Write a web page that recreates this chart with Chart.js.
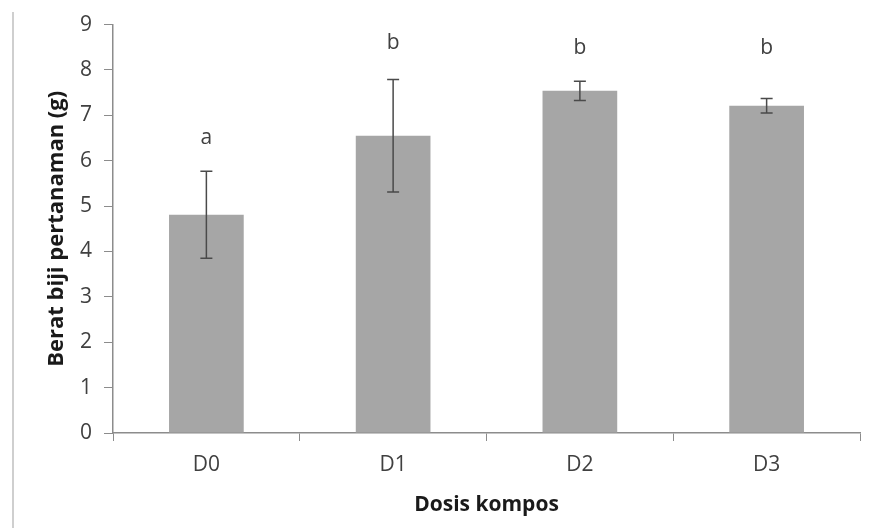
<!DOCTYPE html>
<html>
<head>
<meta charset="utf-8">
<script src="https://cdn.jsdelivr.net/npm/chart.js@4.4.0/dist/chart.umd.min.js"></script>
<style>
  html, body { margin: 0; padding: 0; background: #fff; }
  #wrap { position: relative; width: 875px; height: 528px; }
  #edge { position: absolute; left: 12px; top: 12px; width: 2px; bottom: 0; background: #cfcfcf; }
</style>
</head>
<body>
<div id="wrap">
  <div id="edge"></div>
  <canvas id="chart" width="875" height="528"></canvas>
</div>
<script>
const categories = ['D0', 'D1', 'D2', 'D3'];
const means = [4.81, 6.55, 7.54, 7.21];
const errors = [0.96, 1.24, 0.21, 0.16];
const letters = ['a', 'b', 'b', 'b'];
const letterY = [6.5, 8.6, 8.48, 8.48];
const yTicks = [0, 1, 2, 3, 4, 5, 6, 7, 8, 9];

const textColor = '#404040';
const axisColor = '#8c8c8c';
const font = "'Open Sans', sans-serif";

// error bars and significance letters
const extras = {
    id: 'extras',
    afterDatasetsDraw(chart) {
        const ctx = chart.ctx;
        const x = chart.scales.x;
        const y = chart.scales.y;
        ctx.save();
        ctx.strokeStyle = '#4a4a4a';
        ctx.lineWidth = 1.5;
        means.forEach((m, i) => {
            const cx = x.getPixelForValue(i);
            const top = y.getPixelForValue(m + errors[i]);
            const bot = y.getPixelForValue(m - errors[i]);
            ctx.beginPath();
            ctx.moveTo(cx, top); ctx.lineTo(cx, bot);
            ctx.moveTo(cx - 6, top); ctx.lineTo(cx + 6, top);
            ctx.moveTo(cx - 6, bot); ctx.lineTo(cx + 6, bot);
            ctx.stroke();
        });
        ctx.fillStyle = textColor;
        ctx.font = "21px " + font;
        ctx.textAlign = 'center';
        ctx.textBaseline = 'middle';
        letters.forEach((t, i) => {
            ctx.fillText(t, x.getPixelForValue(i), y.getPixelForValue(letterY[i]));
        });
        ctx.restore();
    }
};

new Chart(document.getElementById('chart').getContext('2d'), {
    type: 'bar',
    data: {
        labels: categories,
        datasets: [{
            data: means,
            backgroundColor: '#a6a6a6',
            borderWidth: 0,
            barPercentage: 0.4,
            categoryPercentage: 1.0
        }]
    },
    options: {
        responsive: false,
        animation: false,
        layout: { padding: { top: 24, right: 15, bottom: 0, left: 0 } },
        plugins: { legend: { display: false }, tooltip: { enabled: false } },
        scales: {
            x: {
                afterFit(scale) { scale.height = 95; },
                grid: {
                    drawOnChartArea: false,
                    drawTicks: true,
                    tickLength: 8,
                    color: axisColor
                },
                border: { color: axisColor, width: 1.5 },
                ticks: { color: textColor, font: { family: font, size: 21 }, padding: 11 },
                title: {
                    display: true,
                    text: 'Dosis kompos',
                    color: '#1a1a1a',
                    font: { family: font, size: 21, weight: 'bold' },
                    padding: { top: 0, bottom: 10 }
                }
            },
            y: {
                min: 0,
                max: 9,
                afterFit(scale) { scale.width = 113; },
                afterBuildTicks(scale) { scale.ticks = yTicks.map(v => ({ value: v })); },
                grid: {
                    drawOnChartArea: false,
                    drawTicks: true,
                    tickLength: 9,
                    color: axisColor
                },
                border: { color: axisColor, width: 1.5 },
                ticks: { color: textColor, font: { family: font, size: 21 }, padding: 12 },
                title: {
                    display: true,
                    text: 'Berat biji pertanaman (g)',
                    color: '#1a1a1a',
                    font: { family: font, size: 22, weight: 'bold' },
                    padding: { top: 44, bottom: 0 }
                }
            }
        }
    },
    plugins: [extras]
});
</script>
</body>
</html>
